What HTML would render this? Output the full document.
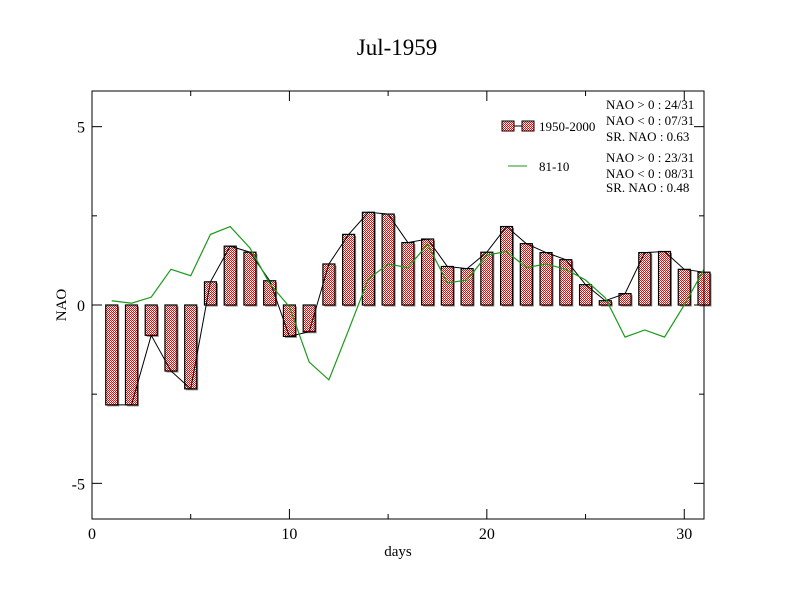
<!DOCTYPE html>
<html><head><meta charset="utf-8"><style>
body{margin:0;background:#fff;}
svg{display:block;font-family:"Liberation Serif",serif;}
</style></head><body>
<svg id="c" width="792" height="612">
<defs>
<pattern id="chk" width="2" height="2" patternUnits="userSpaceOnUse">
<rect width="2" height="2" fill="#fff"/><rect width="1" height="1" fill="#f00"/><rect x="1" y="1" width="1" height="1" fill="#f00"/>
</pattern>
</defs>
<text x="397" y="55" font-size="23" text-anchor="middle">Jul-1959</text>
<g id="plot"></g>
</svg>
<script>
const days=[1,2,3,4,5,6,7,8,9,10,11,12,13,14,15,16,17,18,19,20,21,22,23,24,25,26,27,28,29,30,31];
const naoValues=[-2.8,-2.8,-0.85,-1.85,-2.35,0.65,1.65,1.48,0.68,-0.88,-0.75,1.15,1.98,2.6,2.55,1.75,1.85,1.08,1.02,1.48,2.2,1.72,1.47,1.27,0.57,0.12,0.32,1.47,1.5,1.0,0.92];
const climValues=[0.12,0.05,0.22,1.0,0.82,1.98,2.2,1.6,0.6,-0.05,-1.6,-2.1,-0.7,0.73,1.15,1.05,1.7,0.62,0.7,1.4,1.5,1.05,1.15,1.0,0.7,0.2,-0.9,-0.7,-0.9,0.0,1.0];
const xTicks=[0,10,20,30];
const yTicks=[-5,0,5];
const X0=92,X1=704,Y0=91,Y1=519;
const xs=v=>X0+(v-0)/31*(X1-X0);
const ys=v=>Y1-(v+6)/12*(Y1-Y0);
const NS="http://www.w3.org/2000/svg";
const g=document.getElementById('plot');
function mk(t,a,p){const e=document.createElementNS(NS,t);for(const k in a)e.setAttribute(k,a[k]);(p||g).appendChild(e);return e;}
const bw=12;
days.forEach((d,i)=>{
 const v=naoValues[i];const y=Math.min(ys(v),ys(0));const h=Math.abs(ys(v)-ys(0));
 const s=mk('rect',{x:xs(d)-bw/2+1.5,y:y+1.5,width:bw,height:h,fill:'#888'});
 
 
 const r=mk('rect',{x:xs(d)-bw/2,y:y,width:bw,height:h,fill:'url(#chk)',stroke:'#000','stroke-width':1.2});
 
 
});
const bl=mk('polyline',{points:days.map((d,i)=>xs(d)+','+ys(naoValues[i])).join(' '),fill:'none',stroke:'#000','stroke-width':1});


const gl=mk('polyline',{points:days.map((d,i)=>xs(d)+','+ys(climValues[i])).join(' '),fill:'none',stroke:'#1a9a1a','stroke-width':1.2});


const fr=mk('rect',{x:X0,y:Y0,width:X1-X0,height:Y1-Y0,fill:'none',stroke:'#000','stroke-width':1});


for(let v=0;v<=31;v+=5){const x=xs(v);const L=v%10==0?10:5;
 mk('line',{x1:x,y1:Y1,x2:x,y2:Y1-L,stroke:'#000'});mk('line',{x1:x,y1:Y0,x2:x,y2:Y0+L,stroke:'#000'});}
for(let v=-5;v<=5;v+=2.5){const y=ys(v);const L=v%5==0?10:5;
 mk('line',{x1:X0,y1:y,x2:X0+L,y2:y,stroke:'#000'});mk('line',{x1:X1,y1:y,x2:X1-L,y2:y,stroke:'#000'});}
xTicks.forEach(v=>{const t=mk('text',{x:xs(v),y:539,'font-size':16,'text-anchor':'middle'});t.textContent=v;
 
 });
yTicks.forEach(v=>{const t=mk('text',{x:85,y:ys(v)+6,'font-size':16,'text-anchor':'end'});t.textContent=v;
 
 });
const xt=mk('text',{x:398,y:556,'font-size':15,'text-anchor':'middle'});xt.textContent='days';


const yt=mk('text',{x:66,y:305,'font-size':15,'text-anchor':'middle',transform:'rotate(-90 66 305)'});yt.textContent='NAO';


const lg=mk('g',{});


mk('line',{x1:508,y1:126,x2:528,y2:126,stroke:'#000'},lg);
mk('rect',{x:502,y:121,width:12,height:10,fill:'url(#chk)',stroke:'#000'},lg);
mk('rect',{x:522,y:121,width:12,height:10,fill:'url(#chk)',stroke:'#000'},lg);
mk('line',{x1:508,y1:166,x2:527,y2:166,stroke:'#1a9a1a'},lg);
const lt=[[539,131,'1950-2000'],[539,171,'81-10'],[606,109,'NAO > 0 : 24/31'],[606,125,'NAO < 0 : 07/31'],[606,141,'SR. NAO :  0.63'],[606,162,'NAO > 0 : 23/31'],[606,178,'NAO < 0 : 08/31'],[606,192,'SR. NAO :  0.48']];
lt.forEach(a=>{const t=mk('text',{x:a[0],y:a[1],'font-size':13,'xml:space':'preserve'},lg);t.textContent=a[2];
 
 });
</script>
</body></html>
